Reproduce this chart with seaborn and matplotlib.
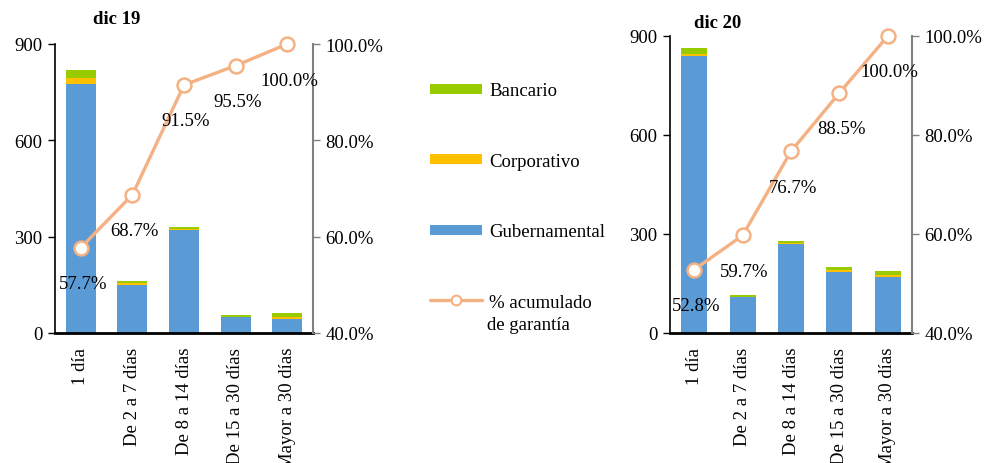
import numpy as np
import pandas as pd
import seaborn as sns
import matplotlib.pyplot as plt
from matplotlib.lines import Line2D

# plazos de las operaciones
categories = ['1 día', 'De 2 a 7 días', 'De 8 a 14 días', 'De 15 a 30 días', 'Mayor a 30 días']

# dic 19
gub_19 = [776, 150, 322, 49, 44]
corp_19 = [18, 6, 2, 1, 6]
banc_19 = [25, 6, 6, 7, 13]
acum_19 = [57.7, 68.7, 91.5, 95.5, 100.0]

# dic 20
gub_20 = [838, 108, 271, 186, 169]
corp_20 = [6, 2, 2, 6, 7]
banc_20 = [20, 6, 7, 9, 12]
acum_20 = [52.8, 59.7, 76.7, 88.5, 100.0]

c_gub = '#5B9BD5'
c_corp = '#FFC000'
c_banc = '#99CC00'
c_line = '#F4B183'
FS = 13.5

sns.set_theme(style='white')
plt.rcParams['font.family'] = ['Liberation Serif', 'DejaVu Serif']
plt.rcParams['font.size'] = FS
plt.rcParams['text.color'] = 'black'
plt.rcParams['xtick.color'] = 'black'
plt.rcParams['ytick.color'] = 'black'

W, H = 986, 464
fig = plt.figure(figsize=(W / 100, H / 100), dpi=100)


def fbox(x0, x1, ytop, ybot):
    return [x0 / W, 1 - ybot / H, (x1 - x0) / W, (ybot - ytop) / H]


def panel(ax, gub, corp, banc, acum, title, tx, ty, bw):
    df = pd.DataFrame({'plazo': categories, 'gub': gub, 'corp': corp, 'banc': banc})
    df['g_c'] = df['gub'] + df['corp']
    df['total'] = df['g_c'] + df['banc']
    sns.barplot(data=df, x='plazo', y='total', color=c_banc, saturation=1, width=bw, linewidth=0, ax=ax)
    sns.barplot(data=df, x='plazo', y='g_c', color=c_corp, saturation=1, width=bw, linewidth=0, ax=ax)
    sns.barplot(data=df, x='plazo', y='gub', color=c_gub, saturation=1, width=bw, linewidth=0, ax=ax)
    ax.set_ylim(0, 900)
    ax.set_yticks([0, 300, 600, 900])
    ax.set_xlabel('')
    ax.set_ylabel('')
    ax.set_xlim(-0.5, 4.5)
    ax.set_xticks(range(5))
    ax.set_xticklabels(categories, rotation=90, va='top', ha='center')
    ax.set_xticks(np.arange(-0.5, 5, 1), minor=True)
    ax.tick_params(axis='x', which='major', length=0, pad=10, labelsize=FS, labelcolor='black')
    ax.tick_params(axis='x', which='minor', length=6, width=1.5, color='black', direction='out')
    ax.tick_params(axis='y', length=5, width=1, color='black', direction='out', labelsize=FS,
                   labelcolor='black', pad=4)
    for s in ['top', 'right']:
        ax.spines[s].set_visible(False)
    ax.spines['left'].set_color('black')
    ax.spines['left'].set_linewidth(1.2)
    ax.spines['bottom'].set_color('black')
    ax.spines['bottom'].set_linewidth(2)

    ax2 = ax.twinx()
    sns.lineplot(x=np.arange(5), y=acum, ax=ax2, color=c_line, lw=2.4, marker='o',
                 markersize=10, markerfacecolor='white', markeredgecolor=c_line,
                 markeredgewidth=1.8, clip_on=False)
    ax2.set_ylim(40, 100)
    ax2.set_xlim(-0.5, 4.5)
    ax2.set_yticks([40, 60, 80, 100])
    ax2.set_yticklabels([f'{v:.1f}%' for v in [40, 60, 80, 100]])
    ax2.tick_params(axis='y', length=5, width=1, color='#808080', direction='out', labelsize=FS,
                    labelcolor='black', pad=4)
    for s in ['top', 'left', 'bottom']:
        ax2.spines[s].set_visible(False)
    ax2.spines['right'].set_color('#808080')
    ax2.spines['right'].set_linewidth(1.5)
    ax2.grid(False)
    for i, v in enumerate(acum):
        ax2.annotate(f'{v:.1f}%', (i, v), xytext=(2, -36), textcoords='offset pixels',
                     ha='center', va='center', fontsize=FS)
    fig.text(tx / W, 1 - ty / H, title, fontweight='bold', fontsize=FS, ha='center', va='center')


ax_l = fig.add_axes(fbox(55, 313, 45, 334))
panel(ax_l, gub_19, corp_19, banc_19, acum_19, 'dic 19', 117, 20, 0.58)

ax_r = fig.add_axes(fbox(670, 912, 37, 334))
panel(ax_r, gub_20, corp_20, banc_20, acum_20, 'dic 20', 718, 23, 0.54)

handles = [
    Line2D([], [], color=c_banc, lw=7.2, solid_capstyle='butt'),
    Line2D([], [], color=c_corp, lw=7.2, solid_capstyle='butt'),
    Line2D([], [], color=c_gub, lw=7.2, solid_capstyle='butt'),
    Line2D([], [], color=c_line, lw=2.4, marker='o', markersize=7, solid_capstyle='round',
           markerfacecolor='white', markeredgecolor=c_line, markeredgewidth=1.5),
]
labels = ['Bancario', 'Corporativo', 'Gubernamental', '% acumulado']
fig.legend(handles, labels, loc='upper left', bbox_to_anchor=(430 / W, 1 - 83 / H),
           frameon=False, borderpad=0, borderaxespad=0, handlelength=2.75,
           handletextpad=0.4, labelspacing=2.85, fontsize=FS)
fig.text(487 / W, 1 - 325 / H, 'de garantía', fontsize=FS, ha='left', va='center')

fig.savefig('out.png', dpi=100)
